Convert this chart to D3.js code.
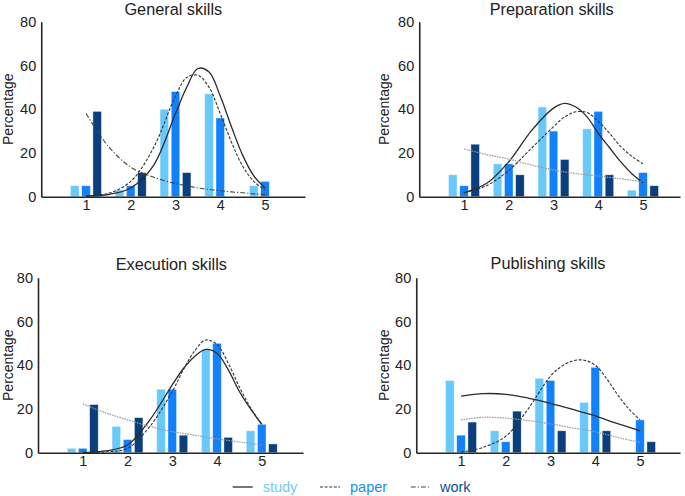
<!DOCTYPE html>
<html>
<head>
<meta charset="utf-8">
<script src="https://cdn.jsdelivr.net/npm/d3@7"></script>
<style>
  html, body { margin: 0; padding: 0; background: #ffffff; }
  svg { display: block; font-family: "Liberation Sans", Arial, Helvetica, sans-serif; }
</style>
</head>
<body>
<svg id="chart" width="685" height="496"></svg>
<script>
// ---------------- DATA ----------------
const categories = [1, 2, 3, 4, 5];
const yTicks = [0, 20, 40, 60, 80];
const seriesNames = ["study", "paper", "work"];

const generalStudy = [5, 3, 40, 47, 5];
const generalPaper = [5, 5, 48, 36, 7];
const generalWork  = [39, 11, 11, 0, 0];

const preparationStudy = [10, 15, 41, 31, 3];
const preparationPaper = [5, 15, 30, 39, 11];
const preparationWork  = [24, 10, 17, 10, 5];

const executionStudy = [2, 12, 29, 47, 10];
const executionPaper = [2, 6, 29, 50, 13];
const executionWork  = [22, 16, 8, 7, 4];

const publishingStudy = [33, 10, 34, 23, 0];
const publishingPaper = [8, 5, 33, 39, 15];
const publishingWork  = [14, 19, 10, 10, 5];

// fitted curves at these x positions
const curveX = [1, 1.5, 2, 2.5, 3, 3.25, 3.5, 3.75, 4, 4.25, 4.5, 4.75, 5];

const generalStudyCurve = [0.3, 1, 4, 14, 38, 50, 58.6, 57, 46, 32, 19, 9.5, 4];
const generalPaperCurve = [0.3, 1.5, 7, 22, 46, 54.5, 55.5, 50, 38, 25, 14, 7, 3];
const generalWorkCurve  = [38, 23, 13.5, 9, 6, 5, 4, 3.3, 2.7, 2.2, 1.8, 1.3, 1];

const preparationStudyCurve = [1.8, 6, 16, 30, 40.5, 42.7, 41, 36.5, 29, 22.5, 16, 10.5, 6.4];
const preparationPaperCurve = [1.8, 5, 12, 22, 32, 36.5, 38.8, 38.5, 34.5, 29, 23, 18.5, 15];
const preparationWorkCurve  = [21.8, 19.3, 17.2, 14.5, 12.2, 11.3, 10.6, 10, 9.5, 8.8, 8.2, 7.5, 6.9];

const executionStudyCurve = [0, 0.8, 3.5, 15, 31, 38.5, 44, 47.2, 45.5, 38, 28, 20, 13];
const executionPaperCurve = [0, 0.4, 2, 12, 28, 38, 46.5, 51.5, 49.5, 41, 30, 20.5, 13];
const executionWorkCurve  = [22.3, 18.3, 15, 12, 9.6, 8.8, 8, 7.1, 6.3, 5.6, 4.9, 4.2, 3.5];

const publishingStudyCurve = [25.9, 27, 26.7, 25, 22.6, 21.2, 19.8, 18.3, 16.8, 15, 13.3, 11.7, 10];
const publishingPaperCurve = [0.2, 2.5, 7.5, 20, 35, 39.5, 42, 42.3, 40, 34, 26.5, 20, 15];
const publishingWorkCurve  = [15, 16.2, 15.8, 14.7, 13.2, 12.3, 11.3, 10.5, 9.6, 8.3, 7, 5.8, 4.7];

// ---------------- LAYOUT / STYLE ----------------
const barColors = { study: "#69c9fb", paper: "#1181fb", work: "#0b3e7c" };
const legendColors = { study: "#6fcbf7", paper: "#1a8cf8", work: "#0f4f91" };
const barOffset = { study: -0.25, paper: 0, work: 0.25 };
const barWidthUnits = 0.19;

const panels = [
  { title: "General skills", x0: 41.25, x1: 305, y0: 196.7, y80: 21.7, titleX: 173.3, titleY: 15, labelX: 13, workStyle: "dashdot",
    bars: { study: generalStudy, paper: generalPaper, work: generalWork },
    curves: { study: generalStudyCurve, paper: generalPaperCurve, work: generalWorkCurve } },
  { title: "Preparation skills", x0: 419.25, x1: 680, y0: 196.7, y80: 21.7, titleX: 551.7, titleY: 15, labelX: 389, workStyle: "dotted",
    bars: { study: preparationStudy, paper: preparationPaper, work: preparationWork },
    curves: { study: preparationStudyCurve, paper: preparationPaperCurve, work: preparationWorkCurve } },
  { title: "Execution skills", x0: 38, x1: 303, y0: 452.7, y80: 277.7, titleX: 171.3, titleY: 269.5, labelX: 12.5, workStyle: "dotted",
    bars: { study: executionStudy, paper: executionPaper, work: executionWork },
    curves: { study: executionStudyCurve, paper: executionPaperCurve, work: executionWorkCurve } },
  { title: "Publishing skills", x0: 416.25, x1: 680, y0: 452.7, y80: 277.7, titleX: 548, titleY: 269, labelX: 389, workStyle: "dotted",
    bars: { study: publishingStudy, paper: publishingPaper, work: publishingWork },
    curves: { study: publishingStudyCurve, paper: publishingPaperCurve, work: publishingWorkCurve } }
];

const lineStyles = {
  study:   { stroke: "#2b2b2b", width: 1.3, dash: null },
  paper:   { stroke: "#333333", width: 1.1, dash: "3,1.6" },
  dashdot: { stroke: "#444444", width: 1.1, dash: "5,2,1.2,2" },
  dotted:  { stroke: "#9a9a9a", width: 1.2, dash: "1.6,1" }
};

const svg = d3.select("#chart");

panels.forEach(p => {
  const spacing = 44.75;
  const x = d3.scaleLinear().domain([0, (p.x1 - p.x0) / spacing]).range([p.x0, p.x1]);
  const y = d3.scaleLinear().domain([0, 80]).range([p.y0, p.y80]);
  const g = svg.append("g");

  // bars
  const bw = x(barWidthUnits) - x(0);
  seriesNames.forEach(s => {
    const rows = categories.map((c, i) => ({ c, v: p.bars[s][i] })).filter(d => d.v > 0);
    g.selectAll(null).data(rows).enter().append("rect")
      .attr("x", d => x(d.c + barOffset[s]) - bw / 2)
      .attr("width", bw)
      .attr("y", d => y(d.v))
      .attr("height", d => y(0) - y(d.v))
      .attr("fill", barColors[s])
      .attr("stroke", "rgba(235,245,255,0.7)")
      .attr("stroke-width", 0.6);
  });

  // curves
  const line = d3.line().x(d => x(d[0])).y(d => y(d[1])).curve(d3.curveCatmullRom.alpha(0.5));
  seriesNames.forEach(s => {
    const st = s === "work" ? lineStyles[p.workStyle] : lineStyles[s];
    const pts = curveX.map((cx, i) => [cx, p.curves[s][i]]);
    g.append("path")
      .attr("d", line(pts))
      .attr("fill", "none")
      .attr("stroke", st.stroke)
      .attr("stroke-width", st.width)
      .attr("stroke-dasharray", st.dash);
  });

  // axes
  const yAxis = d3.axisLeft(y).tickValues(yTicks).tickSize(0).tickPadding(5).tickSizeOuter(0);
  const ya = g.append("g").attr("transform", `translate(${p.x0},0)`).call(yAxis);
  const xAxis = d3.axisBottom(x).tickValues(categories).tickSize(0).tickPadding(3.5).tickSizeOuter(0).tickFormat(d3.format("d"));
  const xa = g.append("g").attr("transform", `translate(0,${p.y0})`).call(xAxis);
  [ya, xa].forEach(a => {
    a.select(".domain").attr("stroke", "#262626").attr("stroke-width", 1.6);
    a.selectAll("text").attr("font-size", 14.5).attr("fill", "#222").attr("font-family", "Liberation Sans, Arial, sans-serif");
  });

  // title
  g.append("text")
    .attr("x", p.titleX).attr("y", p.titleY)
    .attr("text-anchor", "middle")
    .attr("font-size", 16.3)
    .attr("fill", "#222")
    .text(p.title);

  // y label
  g.append("text")
    .attr("transform", `translate(${p.labelX},${(p.y0 + p.y80) / 2}) rotate(-90)`)
    .attr("text-anchor", "middle")
    .attr("font-size", 14)
    .attr("fill", "#222")
    .text("Percentage");
});

// legend
const legendItems = [
  { name: "study", lx: 232.7, tx: 262.7, style: lineStyles.study },
  { name: "paper", lx: 320, tx: 350, style: lineStyles.paper },
  { name: "work", lx: 410.7, tx: 440, style: lineStyles.dashdot }
];
const lg = svg.append("g");
legendItems.forEach(it => {
  lg.append("line")
    .attr("x1", it.lx).attr("x2", it.lx + 20)
    .attr("y1", 487).attr("y2", 487)
    .attr("stroke", it.style.stroke)
    .attr("stroke-width", it.style.width)
    .attr("stroke-dasharray", it.style.dash);
  lg.append("text")
    .attr("x", it.tx).attr("y", 491.5)
    .attr("font-size", 14.5)
    .attr("fill", legendColors[it.name])
    .text(it.name);
});
</script>
</body>
</html>
